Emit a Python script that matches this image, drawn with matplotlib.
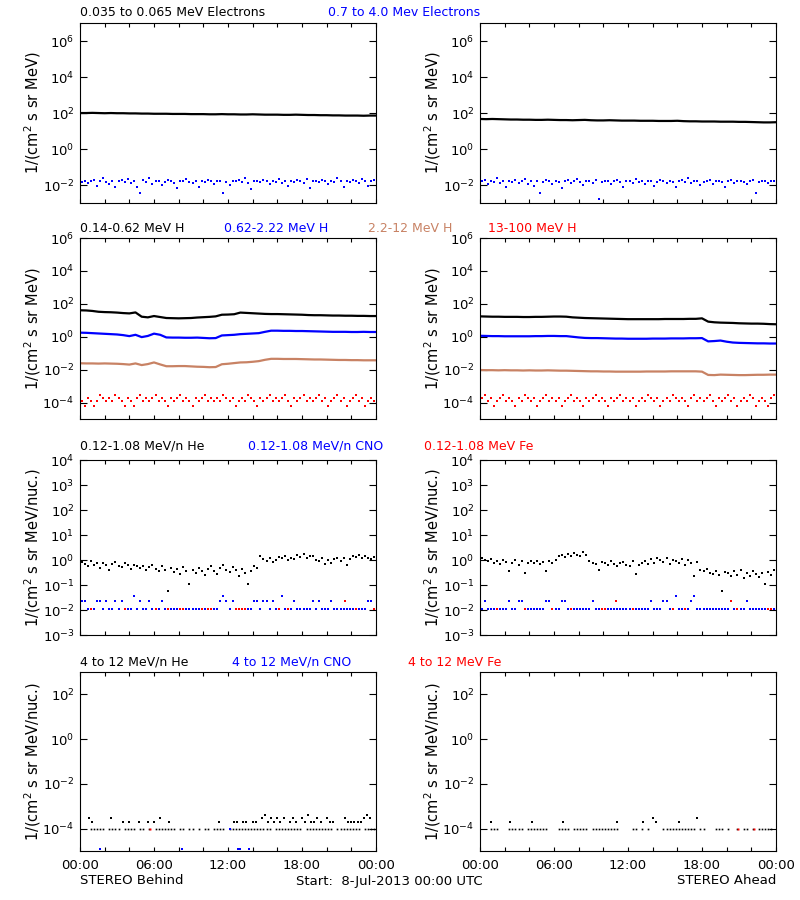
import matplotlib.pyplot as plt
import numpy as np
from matplotlib.ticker import FixedLocator, FuncFormatter, NullLocator

plt.rcParams['font.family'] = 'DejaVu Sans'
plt.rcParams['mathtext.default'] = 'regular'

N = np.nan
BROWN = '#c88264'

# ---- time grids (hours after 8-Jul-2013 00:00 UTC) ----
t30 = np.arange(49) * 0.5          # 30 min samples for the smooth channels
t15 = np.arange(96) * 0.25 + 0.125  # 15 min samples for the noisy channels

# ---- row 1: electrons, log10 flux ----
e_lo_B = [2.00, 2.00, 2.01, 2.00, 1.99, 2.00, 1.99, 1.99, 1.98, 1.98, 1.97, 1.97, 1.96, 1.96, 1.96, 1.95, 1.95,
          1.95, 1.94, 1.94, 1.94, 1.93, 1.93, 1.94, 1.93, 1.93, 1.92, 1.92, 1.93, 1.92, 1.91, 1.91, 1.91, 1.90,
          1.90, 1.91, 1.90, 1.89, 1.89, 1.88, 1.88, 1.87, 1.87, 1.86, 1.86, 1.86, 1.85, 1.86, 1.86]
e_lo_A = [1.67, 1.66, 1.67, 1.66, 1.65, 1.64, 1.64, 1.63, 1.63, 1.62, 1.62, 1.63, 1.62, 1.61, 1.61, 1.60, 1.61,
          1.62, 1.60, 1.59, 1.59, 1.60, 1.59, 1.58, 1.58, 1.58, 1.57, 1.57, 1.57, 1.56, 1.56, 1.56, 1.57, 1.55,
          1.54, 1.54, 1.53, 1.53, 1.53, 1.52, 1.52, 1.52, 1.51, 1.51, 1.50, 1.49, 1.48, 1.48, 1.49]
e_hi_B = [-1.85, -1.75, -1.90, -1.80, -1.70, -2.05, -1.80, -1.60, -1.85, -1.95, -1.75, -2.10, -1.80, -1.70, -1.85,
          -1.65, -1.90, -1.75, -2.10, -2.45, -1.70, -1.85, -1.60, -1.95, -1.80, -1.75, -2.00, -1.85, -1.70, -1.80,
          -1.90, -2.15, -1.75, -1.80, -1.65, -1.85, -1.90, -1.80, -2.10, -1.75, -1.85, -1.70, -1.80, -1.95, -1.75,
          -1.80, -2.45, -1.85, -2.00, -1.75, -1.80, -1.70, -1.85, -1.60, -1.90, -2.20, -1.80, -1.75, -1.85, -1.70,
          -1.80, -1.95, -1.75, -1.85, -1.65, -1.90, -1.80, -2.05, -1.75, -1.85, -1.70, -1.80, -1.90, -1.65, -2.15,
          -1.80, -1.75, -1.85, -1.70, -1.80, -1.95, -1.75, -1.85, -1.60, -1.80, -2.10, -1.75, -1.85, -1.70, -1.80,
          -1.90, -1.65, -1.80, -2.05, -1.75, -1.70]
e_hi_A = [-1.80, -1.70, -1.95, -1.75, -1.85, -1.60, -1.90, -1.80, -2.10, -1.75, -1.85, -1.70, -1.90, -1.80, -1.65,
          -1.95, -1.80, -2.05, -1.75, -2.45, -1.85, -1.70, -1.80, -1.95, -1.75, -1.85, -2.15, -1.80, -1.70, -1.90,
          -1.80, -1.65, -1.85, -2.00, -1.75, -1.80, -1.90, -1.70, -2.75, -1.85, -1.80, -1.75, -1.95, -1.80, -1.70,
          -1.85, -2.10, -1.80, -1.75, -1.90, -1.65, -1.85, -1.80, -1.95, -1.75, -1.80, -2.05, -1.85, -1.70, -1.80,
          -1.90, -1.75, -1.85, -2.10, -1.80, -1.70, -1.85, -1.60, -1.90, -1.80, -1.75, -2.00, -1.85, -1.80, -1.70,
          -1.95, -1.80, -1.75, -1.85, -2.10, -1.80, -1.70, -1.90, -1.80, -1.75, -1.85, -1.95, -1.80, -1.70, -2.45,
          -1.85, -1.75, -1.80, -1.90, -1.80, -1.75]

# ---- row 2: protons, log10 flux ----
h1_B = [1.61, 1.60, 1.57, 1.52, 1.50, 1.49, 1.47, 1.44, 1.42, 1.48, 1.22, 1.18, 1.26, 1.20, 1.14, 1.13, 1.12,
        1.13, 1.14, 1.17, 1.19, 1.21, 1.24, 1.34, 1.35, 1.37, 1.47, 1.45, 1.43, 1.41, 1.39, 1.38, 1.38, 1.37,
        1.36, 1.35, 1.34, 1.32, 1.31, 1.31, 1.30, 1.29, 1.29, 1.28, 1.28, 1.27, 1.27, 1.26, 1.26]
h2_B = [0.25, 0.24, 0.22, 0.20, 0.18, 0.16, 0.14, 0.10, 0.04, 0.12, -0.02, 0.05, 0.19, 0.12, -0.04, -0.05, -0.05,
        -0.06, -0.06, -0.05, -0.07, -0.09, -0.08, 0.08, 0.10, 0.12, 0.16, 0.18, 0.20, 0.22, 0.30, 0.37, 0.37,
        0.36, 0.36, 0.35, 0.35, 0.34, 0.33, 0.32, 0.31, 0.30, 0.30, 0.30, 0.29, 0.29, 0.30, 0.29, 0.29]
h3_B = [-1.61, -1.62, -1.62, -1.63, -1.62, -1.63, -1.64, -1.66, -1.69, -1.62, -1.72, -1.66, -1.56, -1.68, -1.79,
        -1.79, -1.78, -1.78, -1.80, -1.82, -1.83, -1.85, -1.84, -1.67, -1.64, -1.60, -1.56, -1.55, -1.52, -1.48,
        -1.40, -1.34, -1.34, -1.35, -1.35, -1.35, -1.36, -1.37, -1.38, -1.38, -1.39, -1.40, -1.41, -1.41, -1.42,
        -1.42, -1.43, -1.43, -1.43]
h1_A = [1.24, 1.23, 1.22, 1.22, 1.21, 1.21, 1.21, 1.20, 1.20, 1.21, 1.21, 1.22, 1.23, 1.23, 1.22, 1.18, 1.16,
        1.14, 1.13, 1.12, 1.11, 1.10, 1.09, 1.08, 1.07, 1.07, 1.07, 1.07, 1.07, 1.07, 1.08, 1.08, 1.08, 1.08,
        1.09, 1.09, 1.12, 0.92, 0.88, 0.86, 0.85, 0.84, 0.82, 0.81, 0.80, 0.80, 0.79, 0.77, 0.76]
h2_A = [0.06, 0.05, 0.04, 0.04, 0.03, 0.03, 0.03, 0.03, 0.03, 0.04, 0.04, 0.05, 0.05, 0.04, 0.04, 0.00, -0.04,
        -0.07, -0.08, -0.08, -0.09, -0.10, -0.11, -0.11, -0.12, -0.12, -0.12, -0.12, -0.11, -0.11, -0.11, -0.10,
        -0.10, -0.10, -0.09, -0.09, -0.08, -0.28, -0.26, -0.23, -0.30, -0.35, -0.37, -0.38, -0.39, -0.40, -0.40,
        -0.41, -0.41]
h3_A = [-2.02, -2.03, -2.03, -2.04, -2.03, -2.04, -2.04, -2.05, -2.04, -2.05, -2.05, -2.04, -2.05, -2.06, -2.06,
        -2.07, -2.08, -2.09, -2.10, -2.10, -2.11, -2.11, -2.12, -2.12, -2.12, -2.12, -2.12, -2.11, -2.11, -2.11,
        -2.11, -2.10, -2.10, -2.10, -2.10, -2.10, -2.12, -2.32, -2.33, -2.30, -2.31, -2.32, -2.33, -2.33, -2.32,
        -2.31, -2.31, -2.30, -2.30]
h4_B = [-3.88, -4.22, -3.72, -3.88, -4.22, -3.88, -3.53, -3.72, -3.88, -3.72, -3.88, -3.53, -3.72, -3.88, -4.22,
        -3.72, -3.88, -4.22, -3.72, -3.53, -3.88, -3.72, -3.88, -3.72, -3.53, -3.88, -3.72, -3.88, -4.22, -3.72,
        -3.88, -3.72, -3.53, -3.88, -3.72, -3.88, -4.22, -3.72, -3.88, -3.72, -3.53, -3.88, -3.72, -3.88, -3.72,
        -3.88, -3.53, -3.72, -3.88, -3.72, -4.22, -3.88, -3.72, -3.88, -3.53, -3.72, -3.88, -4.22, -3.72, -3.88,
        -3.72, -3.53, -3.88, -3.72, -3.88, -3.72, -3.53, -3.88, -4.22, -3.72, -3.88, -3.72, -3.53, -3.88, -3.72,
        -3.88, -3.72, -3.53, -3.88, -3.72, -4.22, -3.88, -3.72, -3.53, -3.88, -3.72, -4.22, -3.88, -3.72, -3.53,
        -3.88, -3.72, -4.22, -3.88, -3.72, -3.88]
h4_A = [-3.72, -3.53, -3.88, -3.72, -4.22, -3.88, -3.72, -3.53, -3.88, -3.72, -3.88, -4.22, -3.72, -3.88, -3.53,
        -3.72, -3.88, -3.72, -4.22, -3.88, -3.72, -3.53, -3.88, -3.72, -3.88, -3.72, -4.22, -3.88, -3.72, -3.53,
        -3.88, -3.72, -3.88, -4.22, -3.72, -3.88, -3.72, -3.53, -3.88, -3.72, -3.88, -4.22, -3.72, -3.88, -3.72,
        -3.53, -3.88, -3.72, -3.88, -3.72, -4.22, -3.88, -3.72, -3.88, -3.53, -3.72, -3.88, -3.72, -4.22, -3.88,
        -3.72, -3.88, -3.53, -3.72, -3.88, -3.72, -3.88, -4.22, -3.72, -3.53, -3.88, -3.72, -3.88, -3.72, -3.53,
        -3.88, -4.22, -3.72, -3.88, -3.72, -3.53, -3.88, -3.72, -4.22, -3.88, -3.72, -3.88, -3.53, -3.72, -4.22,
        -3.88, -3.72, -3.88, -4.22, -3.72, -3.53]

# ---- row 3: 0.12-1.08 MeV/n ions, log10 flux ----
he_B = [-0.08, -0.15, -0.25, -0.05, -0.18, -0.10, -0.30, -0.12, -0.20, -0.38, -0.15, -0.08, -0.22, -0.28, -0.12,
        -0.20, -0.35, -0.18, -0.25, -0.32, -0.22, -0.40, -0.28, -0.18, -0.35, -0.45, -0.25, -0.38, -1.25, -0.30,
        -0.48, -0.35, -0.55, -0.28, -0.42, -0.95, -0.38, -0.50, -0.30, -0.45, -0.60, -0.35, -0.25, -0.42, -0.55,
        -0.30, -0.20, -0.38, -0.48, -0.28, -0.40, -0.62, -0.35, -0.50, -0.95, -0.45, -0.25, -0.30, 0.18, 0.05,
        -0.05, 0.10, -0.08, 0.02, 0.12, 0.08, 0.15, 0.00, 0.10, 0.05, 0.20, 0.12, 0.25, 0.08, 0.15, 0.18, 0.02,
        -0.05, 0.10, -0.15, 0.00, -0.10, 0.05, 0.08, -0.02, 0.10, -0.18, 0.05, 0.15, 0.12, 0.20, 0.08, 0.15, 0.10,
        0.05, 0.12]
he_A = [0.10, 0.00, -0.05, 0.05, -0.10, -0.02, -0.15, 0.00, -0.08, -0.45, -0.12, 0.02, -0.20, -0.05, -0.50, -0.10,
        -0.02, -0.12, -0.05, -0.15, -0.08, -0.45, -0.02, -0.10, 0.00, 0.15, 0.20, 0.12, 0.25, 0.18, 0.30, 0.22,
        0.15, 0.32, 0.20, -0.02, -0.10, -0.15, -0.40, -0.08, -0.12, -0.20, -0.05, -0.15, -0.22, -0.10, -0.08,
        -0.18, -0.25, -0.05, -0.55, -0.20, -0.12, -0.02, -0.15, 0.05, -0.10, 0.10, 0.00, -0.08, 0.08, -0.15, 0.02,
        -0.05, -0.12, 0.05, -0.20, 0.00, -0.10, -0.65, -0.08, -0.40, -0.45, -0.35, -0.50, -0.55, -0.42, -0.60,
        -1.25, -0.48, -0.52, -0.65, -0.45, -0.58, -0.40, -0.70, -0.50, -0.62, -0.45, -0.55, -0.68, -0.50, -0.95,
        -0.48, -0.60, -0.40]
cno_B = [-1.63, -1.63, -1.95, N, -1.95, -1.63, -1.63, -1.95, -1.63, -1.95, -1.95, -1.63, -1.95, -1.63, N, -1.95,
         -1.95, -1.42, -1.95, -1.63, -1.95, -1.95, -1.63, -1.95, N, -1.95, -1.63, -1.95, N, -1.95, -1.95, -1.95, N,
         N, -1.95, -1.95, -1.95, -1.95, -1.95, N, -1.95, N, N, -1.95, -1.95, -1.63, -1.42, -1.63, -1.95, -1.63, N,
         N, N, N, -1.95, -1.95, -1.63, -1.63, -1.95, -1.63, -1.63, -1.95, -1.63, -1.95, N, -1.42, -1.95, N, -1.95,
         -1.63, -1.95, -1.95, -1.95, -1.95, -1.95, -1.63, -1.95, -1.63, -1.95, -1.95, -1.95, -1.63, -1.95, -1.95,
         -1.95, -1.95, -1.95, -1.95, -1.95, N, -1.95, -1.95, -1.95, -1.63, -1.63, -1.95]
cno_A = [-1.95, -1.63, -1.95, -1.95, -1.95, N, -1.95, -1.95, -1.95, -1.63, -1.95, -1.95, -1.63, -1.63, N, -1.95,
         -1.95, -1.95, -1.95, -1.95, -1.95, -1.63, -1.63, N, -1.95, -1.95, -1.63, -1.63, -1.95, N, -1.95, -1.95,
         -1.95, -1.95, -1.95, -1.95, -1.63, -1.95, -1.95, N, N, -1.95, -1.95, -1.95, -1.95, -1.95, -1.95, -1.95,
         -1.95, N, -1.95, -1.95, -1.95, -1.95, -1.95, -1.63, -1.95, -1.95, -1.95, -1.63, -1.63, -1.95, N, -1.42,
         -1.95, -1.95, N, -1.95, -1.63, -1.42, -1.95, -1.95, -1.95, -1.95, -1.95, -1.95, -1.95, -1.95, -1.95, -1.95,
         -1.95, N, -1.95, N, -1.95, -1.95, -1.63, -1.95, -1.95, -1.95, -1.95, -1.95, -1.95, N, N, -1.95]
fe_B_hr = [0.0, 0.875, 3.625, 6.125, 7.125, 8.125, 8.375, 9.875, 10.375, 10.625, 12.625, 12.875, 13.125, 13.375,
           16.125, 16.875, 21.5, 22.375, 23.875]
fe_B_lg = [-1.63, -1.95, -1.95, -1.95, -1.95, -1.95, -1.95, -1.95, -1.95, -1.95, -1.95, -1.95, -1.95, -1.95,
           -1.95, -1.95, -1.63, -1.95, -1.95]
fe_A_hr = [1.375, 3.625, 5.875, 7.375, 9.875, 10.125, 11.0, 12.375, 15.625, 16.625, 20.375, 20.875, 23.375, 23.625]
fe_A_lg = [-1.95, -1.95, -1.95, -1.95, -1.95, -1.95, -1.63, -1.95, -1.95, -1.95, -1.63, -1.95, -1.95, -1.95]

# ---- row 4: 4-12 MeV/n ions ----
he4_floor = -4.0   # one-count level
he4_B_on_floor = [0, 0, 0, 1, 1, 1, 1, 1, 0, 1, 1, 1, 1, 0, 1, 1, 1, 1, 0, 1, 1, 0, 1, 0, 1, 1, 1, 1, 1, 1, 1, 0,
                  1, 1, 0, 1, 1, 0, 1, 0, 1, 1, 0, 1, 1, 1, 1, 0, 1, 1, 1, 1, 1, 1, 1, 1, 1, 1, 1, 1, 1, 1, 0, 1,
                  1, 1, 1, 1, 1, 1, 1, 1, 0, 1, 1, 1, 1, 1, 1, 1, 1, 1, 0, 1, 1, 1, 1, 1, 1, 1, 1, 0, 1, 1, 1, 1]
he4_A_on_floor = [0, 0, 0, 1, 1, 1, 0, 0, 0, 1, 1, 1, 1, 1, 0, 1, 1, 1, 1, 1, 1, 1, 0, 0, 0, 1, 1, 1, 1, 0, 1, 1,
                  1, 1, 1, 0, 1, 1, 1, 1, 1, 1, 1, 1, 1, 0, 0, 0, 0, 1, 1, 0, 1, 0, 1, 0, 0, 0, 0, 1, 1, 1, 1, 1,
                  1, 1, 1, 1, 1, 1, 0, 1, 1, 0, 0, 0, 1, 1, 1, 0, 1, 0, 0, 1, 0, 1, 1, 0, 1, 0, 1, 1, 1, 1, 1, 0]
he4_B_hr = [0.75, 1.0, 2.5, 3.5, 4.0, 4.75, 5.5, 6.0, 6.5, 7.25, 11.25, 12.5, 12.75, 13.25, 13.5, 14.0, 14.25,
            14.75, 15.0, 15.25, 15.5, 15.75, 16.0, 16.25, 16.5, 17.0, 17.25, 17.5, 18.0, 18.25, 18.5, 18.75, 19.0,
            19.25, 19.5, 20.0, 20.25, 20.5, 21.5, 21.75, 22.0, 22.25, 22.5, 22.75, 23.0, 23.25, 23.5]
he4_B_lg = [-3.52, -3.7, -3.52, -3.7, -3.7, -3.7, -3.7, -3.7, -3.52, -3.7, -3.7, -3.7, -3.7, -3.7, -3.7, -3.7,
            -3.7, -3.52, -3.4, -3.7, -3.52, -3.7, -3.52, -3.7, -3.52, -3.7, -3.52, -3.7, -3.52, -3.7, -3.4, -3.7,
            -3.7, -3.52, -3.7, -3.52, -3.7, -3.7, -3.52, -3.7, -3.7, -3.7, -3.7, -3.7, -3.52, -3.4, -3.52]
he4_A_hr = [0.9, 2.4, 4.2, 6.7, 11.1, 13.2, 14.05, 14.3, 16.1, 17.6]
he4_A_lg = [-3.7, -3.7, -3.7, -3.7, -3.7, -3.7, -3.52, -3.7, -3.7, -3.52]
cno4_B_hr = [1.6, 8.3, 12.2, 12.8, 12.95, 13.7]
cno4_B_lg = [-4.92, -4.92, -4.0, -4.92, -4.92, -4.92]
fe4_B_hr = [5.7]
fe4_B_lg = [-4.0]
fe4_A_hr = [20.9, 22.2]
fe4_A_lg = [-4.0, -4.0]

ylab_e = '1/(cm$^2$ s sr MeV)'
ylab_n = '1/(cm$^2$ s sr MeV/nuc.)'


def dots(ax, t, lg, color, ms=1.6):
    ax.plot(t, 10.0 ** np.asarray(lg, dtype=float), ls='none', marker='s', ms=ms, mew=0, color=color)


def line(ax, t, lg, color):
    ax.plot(t, 10.0 ** np.asarray(lg), color=color, lw=1.6)


def setup(ax, lim, ticks, ylabel, last_row):
    ax.set_yscale('log')
    ax.set_xlim(0, 24)
    ax.set_ylim(10.0 ** lim[0], 10.0 ** lim[1])
    ax.yaxis.set_major_locator(FixedLocator([10.0 ** e for e in ticks]))
    ax.yaxis.set_minor_locator(NullLocator())
    ax.yaxis.set_major_formatter(FuncFormatter(lambda v, p: r'$10^{%d}$' % round(np.log10(v))))
    ax.xaxis.set_major_locator(FixedLocator([0, 6, 12, 18, 24]))
    ax.xaxis.set_minor_locator(FixedLocator([2, 4, 8, 10, 14, 16, 20, 22]))
    ax.tick_params(which='both', direction='in', top=True, right=True, labelsize=9.5, width=0.8)
    ax.tick_params(axis='y', length=5, pad=4)
    ax.tick_params(axis='x', which='both', length=3, pad=6)
    if last_row:
        ax.set_xticklabels(['00:00', '06:00', '12:00', '18:00', '00:00'])
    else:
        ax.set_xticklabels([])
    ax.set_ylabel(ylabel, fontsize=10.5)
    ax.yaxis.set_label_coords(-0.125, 0.5)
    for s in ax.spines.values():
        s.set_linewidth(0.8)


fig = plt.figure(figsize=(8, 9), dpi=100)
xs = [0.1, 0.6]
rows = [(0.7744, 0.2), (0.5344, 0.2011), (0.2944, 0.1944), (0.0544, 0.1989)]
axs = [[fig.add_axes([x, b, 0.37, h]) for x in xs] for b, h in rows]

# row 1
for ax, blk, blu in [(axs[0][0], e_lo_B, e_hi_B), (axs[0][1], e_lo_A, e_hi_A)]:
    line(ax, t30, blk, 'black')
    dots(ax, t15, blu, 'blue', ms=1.9)
    setup(ax, (-3, 7), [-2, 0, 2, 4, 6], ylab_e, False)

# row 2
for ax, a, b, c, d in [(axs[1][0], h1_B, h2_B, h3_B, h4_B), (axs[1][1], h1_A, h2_A, h3_A, h4_A)]:
    line(ax, t30, a, 'black')
    line(ax, t30, b, 'blue')
    line(ax, t30, c, BROWN)
    dots(ax, t15, d, 'red', ms=1.7)
    setup(ax, (-5, 6), [-4, -2, 0, 2, 4, 6], ylab_e, False)

# row 3
for ax, he, cno, fh, fl in [(axs[2][0], he_B, cno_B, fe_B_hr, fe_B_lg), (axs[2][1], he_A, cno_A, fe_A_hr, fe_A_lg)]:
    dots(ax, t15, he, 'black', ms=2.0)
    dots(ax, t15, cno, 'blue', ms=1.7)
    dots(ax, fh, fl, 'red', ms=1.7)
    setup(ax, (-3, 4), [-3, -2, -1, 0, 1, 2, 3, 4], ylab_n, False)

# row 4
for ax, flags, uh, ul, ch, cl, fh, fl in [
        (axs[3][0], he4_B_on_floor, he4_B_hr, he4_B_lg, cno4_B_hr, cno4_B_lg, fe4_B_hr, fe4_B_lg),
        (axs[3][1], he4_A_on_floor, he4_A_hr, he4_A_lg, [], [], fe4_A_hr, fe4_A_lg)]:
    fl_t = t15[np.asarray(flags) == 1]
    dots(ax, fl_t, np.full(len(fl_t), he4_floor), 'black', ms=1.2)
    dots(ax, uh, ul, 'black', ms=1.8)
    if ch:
        dots(ax, ch, cl, 'blue', ms=1.8)
    dots(ax, fh, fl, 'red', ms=1.4)
    setup(ax, (-5, 3), [-4, -2, 0, 2], ylab_n, True)

# channel titles above each row
titles = [
    (13, [(80, '0.035 to 0.065 MeV Electrons', 'black'), (328, '0.7 to 4.0 Mev Electrons', 'blue')]),
    (229, [(80, '0.14-0.62 MeV H', 'black'), (224, '0.62-2.22 MeV H', 'blue'),
           (368, '2.2-12 MeV H', BROWN), (488, '13-100 MeV H', 'red')]),
    (446, [(80, '0.12-1.08 MeV/n He', 'black'), (248, '0.12-1.08 MeV/n CNO', 'blue'),
           (424, '0.12-1.08 MeV Fe', 'red')]),
    (662, [(80, '4 to 12 MeV/n He', 'black'), (232, '4 to 12 MeV/n CNO', 'blue'),
           (408, '4 to 12 MeV Fe', 'red')]),
]
for ypix, items in titles:
    for xpix, txt, col in items:
        fig.text(xpix / 800, 1 - ypix / 900, txt, color=col, fontsize=9, va='center', ha='left')

fig.text(80 / 800, 1 - 881 / 900, 'STEREO Behind', fontsize=9.5, va='center', ha='left')
fig.text(296 / 800, 1 - 881 / 900, 'Start:  8-Jul-2013 00:00 UTC', fontsize=9.5, va='center', ha='left')
fig.text(776 / 800, 1 - 881 / 900, 'STEREO Ahead', fontsize=9.5, va='center', ha='right')

fig.savefig('out.png', dpi=100)
